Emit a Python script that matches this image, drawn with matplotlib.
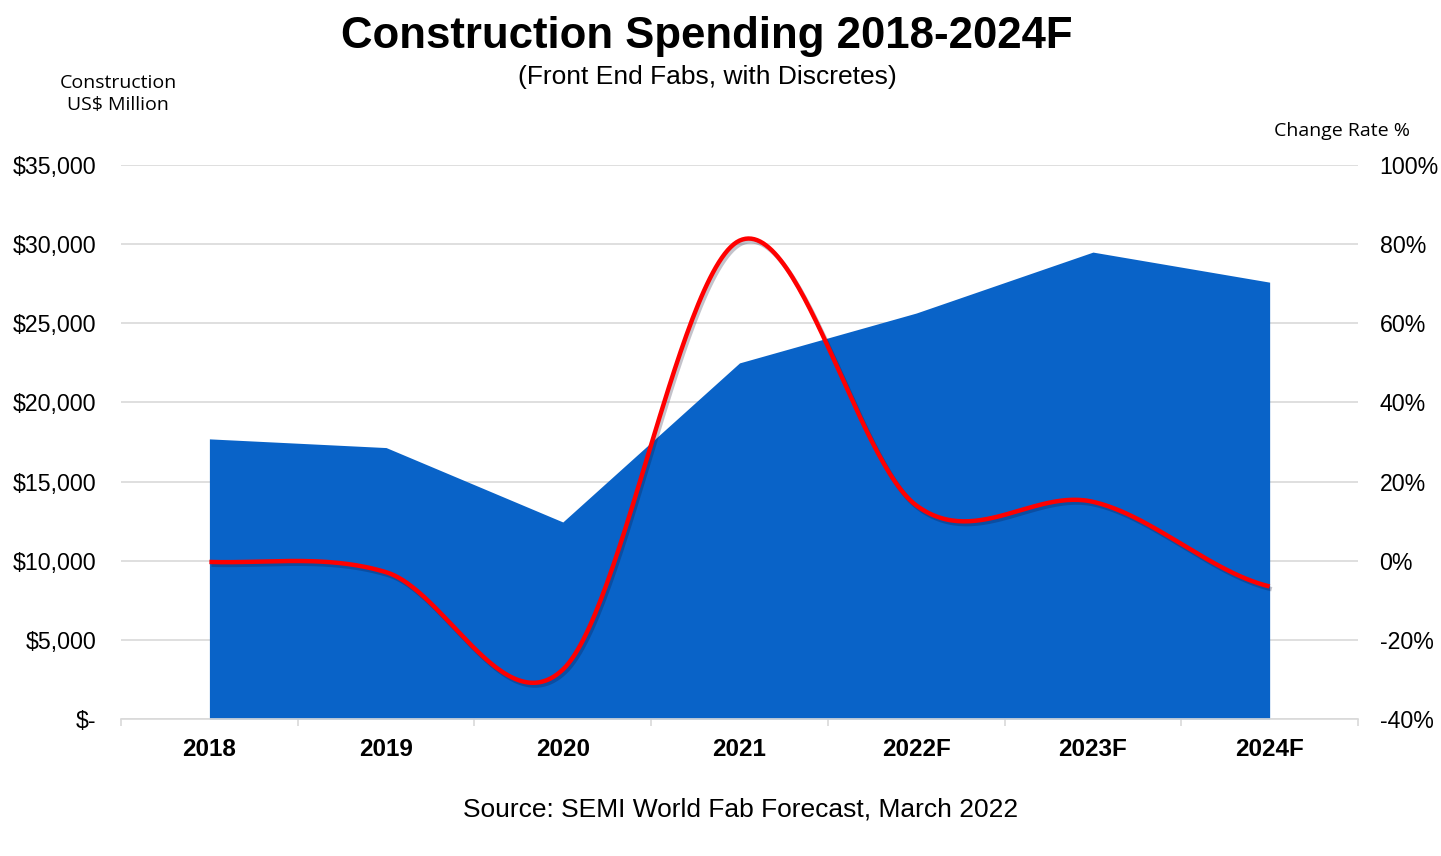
import numpy as np
import matplotlib
matplotlib.use('Agg')
import matplotlib.pyplot as plt
from matplotlib import patheffects as pe
from matplotlib.ticker import FuncFormatter, MultipleLocator

# 数据
years=['2018','2019','2020','2021','2022F','2023F','2024F']
spend=[17700,17150,12450,22500,25650,29500,27600]   # US$ Million
rate=[-0.3,-2.9,-27.5,80.9,14.0,14.9,-6.5]           # %

BLUE='#0963C8'; RED='#FF0000'; GRID='#D9D9D9'
plt.rcParams['font.family']=['Liberation Sans','DejaVu Sans']

def smooth(y,n=60):
    # Catmull-Rom, 类似 Excel 平滑线
    y=np.asarray(y,float); p=np.r_[y[0],y,y[-1]]
    xs=[];ys=[]
    for i in range(len(y)-1):
        t=np.linspace(0,1,n,endpoint=False) if i<len(y)-2 else np.linspace(0,1,n)
        p0,p1,p2,p3=p[i],p[i+1],p[i+2],p[i+3]
        ys.append(0.5*((2*p1)+(-p0+p2)*t+(2*p0-5*p1+4*p2-p3)*t**2+(-p0+3*p1-3*p2+p3)*t**3))
        xs.append(i+t)
    return np.concatenate(xs),np.concatenate(ys)

fig=plt.figure(figsize=(14.41,8.56),dpi=100)
ax=fig.add_axes([0.084,0.16,0.8584,0.6472])
x=np.arange(len(years))
ax.fill_between(x,spend,0,color=BLUE,lw=0,zorder=2)
ax.set_xlim(-0.5,len(years)-0.5); ax.set_ylim(0,35000)
ax.yaxis.set_major_locator(MultipleLocator(5000))
ax.yaxis.set_major_formatter(FuncFormatter(lambda v,p:'$-' if v==0 else '${:,.0f}'.format(v)))
ax.grid(axis='y',color=GRID,lw=1.2,zorder=0); ax.set_axisbelow(True)
for s in ['top','left','right']: ax.spines[s].set_visible(False)
ax.spines['bottom'].set_color(GRID); ax.spines['bottom'].set_linewidth(1.2)
ax.set_xticks(x); ax.set_xticklabels(years,fontsize=17.5,fontweight='bold')
ax.set_xticks(np.arange(-0.5,len(years)),minor=True)
ax.tick_params(axis='x',which='major',length=0,pad=14)
ax.tick_params(axis='x',which='minor',length=5,color=GRID,width=1.2)
ax.tick_params(axis='y',length=0,labelsize=16.7,pad=18)

ax2=ax.twinx()
ax2.set_ylim(-40,100); ax2.yaxis.set_major_locator(MultipleLocator(20))
ax2.yaxis.set_major_formatter(FuncFormatter(lambda v,p:'%d%%'%v))
ax2.tick_params(axis='y',length=0,labelsize=16.7,pad=15.5)
for s in ax2.spines.values(): s.set_visible(False)
sx,sy=smooth(rate)
ax2.plot(sx,sy,color=RED,lw=3.2,solid_capstyle='butt',zorder=3,
         path_effects=[pe.SimpleLineShadow(offset=(1.5,-2),alpha=0.25,shadow_color='#111133'),pe.Normal()])

fig.text(0.4906,0.957,'Construction Spending 2018-2024F',ha='center',va='center',fontsize=31.5,fontweight='bold')
fig.text(0.4906,0.91,'(Front End Fabs, with Discretes)',ha='center',va='center',fontsize=19)
fig.text(0.082,0.89,'Construction\nUS$ Million',ha='center',va='center',fontsize=14,family=['Open Sans','DejaVu Sans'],linespacing=1.3)
fig.text(0.931,0.847,'Change Rate %',ha='center',va='center',fontsize=14,family=['Open Sans','DejaVu Sans'])
fig.text(0.5139,0.054,'Source: SEMI World Fab Forecast, March 2022',ha='center',va='center',fontsize=19)

fig.savefig('out.png',dpi=100)
